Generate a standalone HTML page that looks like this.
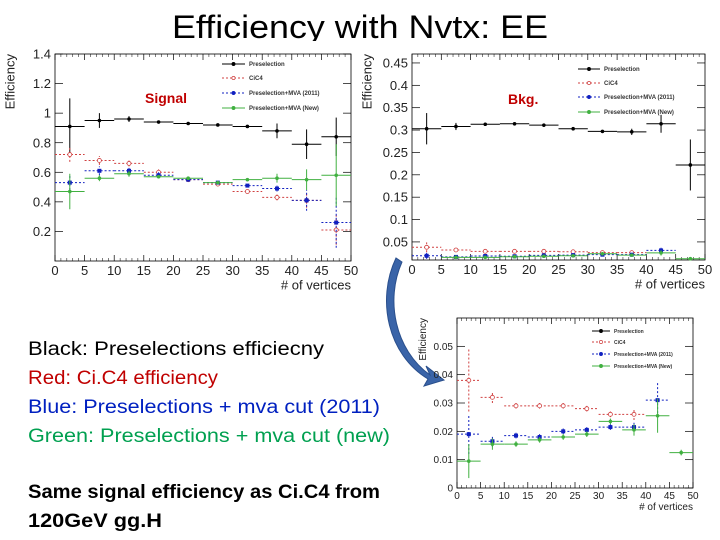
<!DOCTYPE html>
<html><head><meta charset="utf-8"><style>
body{margin:0;background:#fff;}
svg{display:block;font-family:"Liberation Sans",sans-serif;}
</style></head><body>
<svg id="s" width="720" height="540" viewBox="0 0 720 540">
<rect width="720" height="540" fill="#fff"/>
<svg x="0" y="0" width="720" height="41" overflow="hidden"><text x="360" y="38" text-anchor="middle" font-size="32" textLength="376" lengthAdjust="spacingAndGlyphs">Efficiency with Nvtx: EE</text></svg>
<g font-size="19">
<text x="28" y="355" fill="#000" textLength="296" lengthAdjust="spacingAndGlyphs">Black:  Preselections efficiecny</text>
<text x="28" y="384" fill="#c00000" textLength="190" lengthAdjust="spacingAndGlyphs">Red: Ci.C4 efficiency</text>
<text x="28" y="413" fill="#0020c0" textLength="352" lengthAdjust="spacingAndGlyphs">Blue: Preselections + mva cut (2011)</text>
<text x="28" y="442" fill="#00a050" textLength="362" lengthAdjust="spacingAndGlyphs">Green: Preselections + mva cut (new)</text>
<text x="28" y="498" font-weight="bold" textLength="352" lengthAdjust="spacingAndGlyphs">Same signal efficiency as Ci.C4  from</text>
<text x="28" y="527" font-weight="bold" textLength="134" lengthAdjust="spacingAndGlyphs">120GeV gg.H</text>
</g>
<path d="M402 262 C 385 300, 395 350, 430 375 L 426 366 L 444 380 L 424 386 L 428 379 C 388 355, 376 300, 396 258 Z" fill="#3a64a8" stroke="#2a4f8c" stroke-width="1"/>
<g id="plots"></g>
</svg>
<script>
const bins=[2.5,7.5,12.5,17.5,22.5,27.5,32.5,37.5,42.5,47.5];
const sigPre=[0.91,0.95,0.96,0.94,0.93,0.92,0.91,0.88,0.79,0.84];
const sigPreErr=[0.19,0.05,0.02,0.01,0.01,0.01,0.01,0.05,0.1,0.13];
const sigCic=[0.72,0.68,0.66,0.60,0.55,0.52,0.47,0.43,0.41,0.21];
const sigCicErr=[0.05,0.03,0.02,0.02,0.01,0.01,0.01,0.02,0.05,0.1];
const sigMva=[0.53,0.61,0.61,0.58,0.55,0.53,0.51,0.49,0.41,0.26];
const sigMvaErr=[0.05,0.03,0.02,0.02,0.01,0.01,0.01,0.02,0.07,0.17];
const sigNew=[0.47,0.56,0.59,0.57,0.56,0.53,0.55,0.56,0.55,0.58];
const sigNewErr=[0.12,0.02,0.02,0.01,0.01,0.01,0.01,0.03,0.07,0.21];
const bkgPre=[0.303,0.308,0.313,0.314,0.311,0.303,0.297,0.296,0.314,0.222];
const bkgPreErr=[0.035,0.008,0.003,0.003,0.003,0.003,0.003,0.007,0.02,0.057];
const bkgCic=[0.038,0.032,0.029,0.029,0.029,0.028,0.026,0.026,null,null];
const bkgCicErr=[0.011,0.002,0.001,0.001,0.001,0.001,0.001,0.002,0,0];
const bkgMva=[0.019,0.0165,0.0185,0.018,0.020,0.0205,0.0215,0.0215,0.031,null];
const bkgMvaErr=[0.007,0.002,0.001,0.001,0.001,0.001,0.001,0.002,0.006,0];
const bkgNew=[0.0095,0.0155,0.0155,0.017,0.018,0.019,0.0235,0.0205,0.0255,0.0125];
const bkgNewErr=[0.006,0.002,0.001,0.001,0.001,0.001,0.001,0.002,0.006,0.001];
const xTicks=[0,5,10,15,20,25,30,35,40,45,50];
const sigYTicks=[0.2,0.4,0.6,0.8,1,1.2,1.4];
const bkgYTicks=[0.05,0.1,0.15,0.2,0.25,0.3,0.35,0.4,0.45];
const zoomYTicks=[0,0.01,0.02,0.03,0.04,0.05];
const legendNames=["Preselection","CiC4","Preselection+MVA (2011)","Preselection+MVA (New)"];
const NS="http://www.w3.org/2000/svg";
const root=document.getElementById('plots');
function mk(t,a,p){const e=document.createElementNS(NS,t);for(const k in a)e.setAttribute(k,a[k]);(p||root).appendChild(e);return e;}
const styles=[{c:"#000",d:"",m:"circle"},{c:"#d04040",d:"2,2",m:"open"},{c:"#1020c0",d:"2,2",m:"square"},{c:"#40b040",d:"",m:"circle"}];
function plot(cfg){
 const g=mk('g',{});
 
 
 const X=v=>cfg.x0+(v-0)/50*(cfg.x1-cfg.x0);
 const Y=v=>cfg.y1-(v-cfg.ymin)/(cfg.ymax-cfg.ymin)*(cfg.y1-cfg.y0);
 const fr=mk('rect',{x:cfg.x0,y:cfg.y0,width:cfg.x1-cfg.x0,height:cfg.y1-cfg.y0,fill:'none',stroke:'#000','stroke-width':0.8},g);
 
 xTicks.forEach(t=>{const x=X(t);
  mk('line',{x1:x,x2:x,y1:cfg.y1,y2:cfg.y1-6,stroke:'#000','stroke-width':0.7},g);
  mk('line',{x1:x,x2:x,y1:cfg.y0,y2:cfg.y0+6,stroke:'#000','stroke-width':0.7},g);
  const tx=mk('text',{x:x,y:cfg.y1+cfg.fs+1,'font-size':cfg.fs,'text-anchor':'middle',fill:'#222'},g);tx.textContent=t;
  
 });
 for(let t=0;t<=50;t++){if(t%5){const x=X(t);mk('line',{x1:x,x2:x,y1:cfg.y1,y2:cfg.y1-3,stroke:'#000','stroke-width':0.5},g);mk('line',{x1:x,x2:x,y1:cfg.y0,y2:cfg.y0+3,stroke:'#000','stroke-width':0.5},g);}}
 cfg.yt.forEach(t=>{const y=Y(t);
  mk('line',{x1:cfg.x0,x2:cfg.x0+8,y1:y,y2:y,stroke:'#000','stroke-width':0.7},g);
  mk('line',{x1:cfg.x1,x2:cfg.x1-8,y1:y,y2:y,stroke:'#000','stroke-width':0.7},g);
  const tx=mk('text',{x:cfg.x0-4,y:y+cfg.fs*0.35,'font-size':cfg.fs,'text-anchor':'end',fill:'#222'},g);tx.textContent=t;
  
 });
 const xt=mk('text',{x:cfg.x1,y:cfg.y1+cfg.fs*2.2,'font-size':cfg.fs,'text-anchor':'end',fill:'#222'},g);xt.textContent='# of vertices';
 
 const yx=cfg.x0-cfg.fs*3.1;
 const yt=mk('text',{x:yx,y:cfg.y0,'font-size':cfg.fs,'text-anchor':'end',transform:`rotate(-90 ${yx} ${cfg.y0})`,fill:'#222'},g);yt.textContent='Efficiency';
 
 cfg.series.forEach((s,i)=>{const st=styles[i];
  const sg=mk('g',{},g);
  s.v.forEach((v,j)=>{if(v===null||v<cfg.ymin||v>cfg.ymax)return;const cx=X(bins[j]),cy=Y(v);
   mk('line',{x1:X(bins[j]-2.5),x2:X(bins[j]+2.5),y1:cy,y2:cy,stroke:st.c,'stroke-width':1,'stroke-dasharray':st.d},sg);
   const e=s.e[j];mk('line',{x1:cx,x2:cx,y1:Y(Math.max(cfg.ymin,v-e)),y2:Y(Math.min(cfg.ymax,v+e)),stroke:st.c,'stroke-width':1,'stroke-dasharray':st.d},sg);
   if(st.m==='square')mk('rect',{x:cx-2,y:cy-2,width:4,height:4,fill:st.c},sg);
   else if(st.m==='open')mk('circle',{cx:cx,cy:cy,r:2,fill:'#fff',stroke:st.c,'stroke-width':0.8},sg);
   else mk('circle',{cx:cx,cy:cy,r:1.8,fill:st.c},sg);
  });
 });
 legendNames.forEach((n,i)=>{const st=styles[i];const y=cfg.lg.y[i];
  const lgE=mk('g',{},g);
  mk('line',{x1:cfg.lg.x,x2:cfg.lg.x+cfg.lg.w,y1:y,y2:y,stroke:st.c,'stroke-width':1,'stroke-dasharray':st.d},lgE);
  mk('circle',{cx:cfg.lg.x+cfg.lg.w/2,cy:y,r:1.6,fill:st.m==='open'?'#fff':st.c,stroke:st.c,'stroke-width':0.7},lgE);
  const t=mk('text',{x:cfg.lg.x+cfg.lg.w+4,y:y+2,'font-size':cfg.lg.fs,'font-weight':'bold',fill:'#333'},lgE);t.textContent=n;
 });
 if(cfg.label){const t=mk('text',{x:cfg.label.x,y:cfg.label.y,'font-size':14,'font-weight':'bold',fill:'#c00000'},g);t.textContent=cfg.label.t;
  }
}
plot({name:'signal-plot',x0:55,x1:351,y0:54,y1:261,ymin:0,ymax:1.4,yt:sigYTicks,fs:13,
 series:[{v:sigPre,e:sigPreErr},{v:sigCic,e:sigCicErr},{v:sigMva,e:sigMvaErr},{v:sigNew,e:sigNewErr}],
 lg:{x:222,w:23,y:[64,78,93,108],fs:6},label:{x:145,y:103,t:'Signal'}});
plot({name:'background-plot',x0:412,x1:705,y0:54,y1:260,ymin:0.0096,ymax:0.47,yt:bkgYTicks,fs:13,
 series:[{v:bkgPre,e:bkgPreErr},{v:bkgCic,e:bkgCicErr},{v:bkgMva,e:bkgMvaErr},{v:bkgNew,e:bkgNewErr}],
 lg:{x:578,w:22,y:[69,83,97,112],fs:6},label:{x:508,y:104,t:'Bkg.'}});
plot({name:'background-zoom-plot',x0:457,x1:693,y0:318,y1:488,ymin:0,ymax:0.06,yt:zoomYTicks,fs:10,
 series:[{v:bkgPre,e:bkgPreErr},{v:bkgCic,e:bkgCicErr},{v:bkgMva,e:bkgMvaErr},{v:bkgNew,e:bkgNewErr}],
 lg:{x:592,w:18,y:[331,342,354,366],fs:5}});
</script>
</body></html>
